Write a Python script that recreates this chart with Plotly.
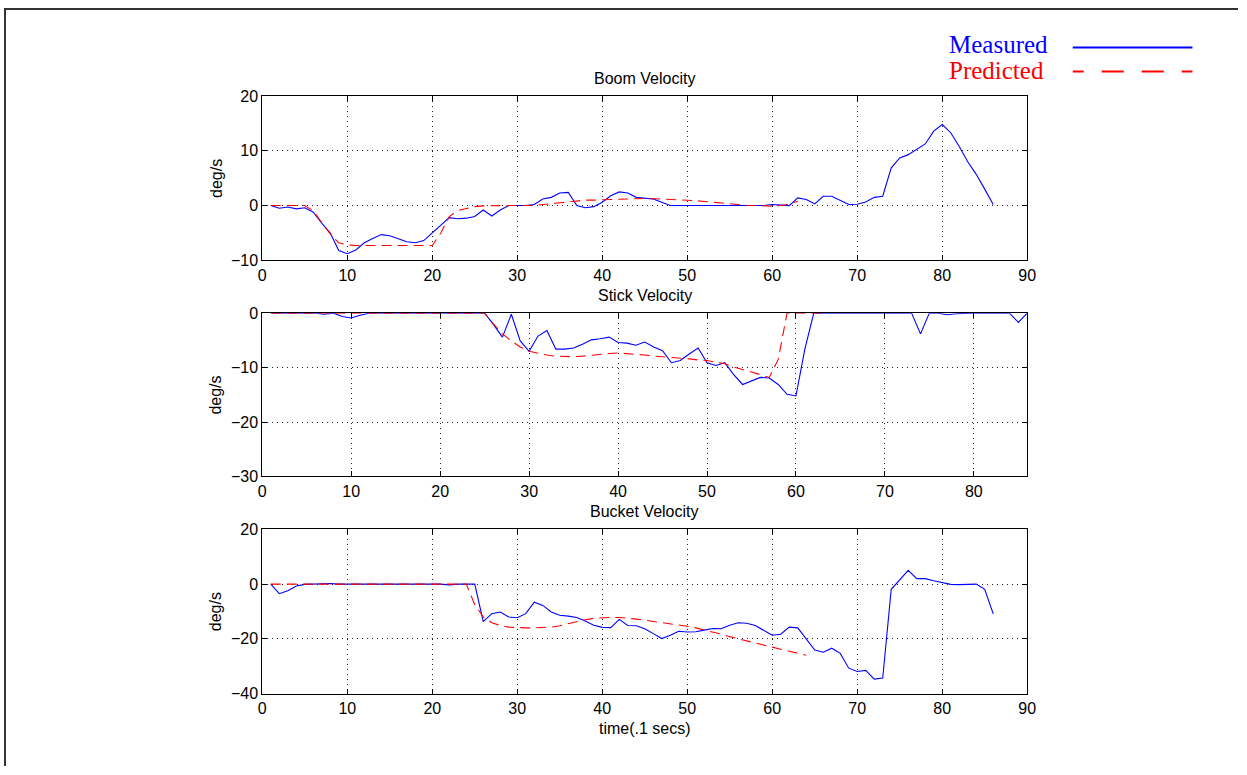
import plotly.graph_objects as go

# sample index (tenths of a second)
t_meas = list(range(1, 87))

boom_measured = [
    0, -0.5, -0.25, -0.6, -0.4, -1.2, -3.2, -5.0, -8.2, -8.8,
    -8.1, -6.8, -6.0, -5.3, -5.5, -6.0, -6.6, -6.8, -6.4, -5.0,
    -3.6, -2.2, -2.4, -2.3, -2.0, -0.8, -1.9, -0.8, 0, 0,
    0, 0.2, 1.2, 1.5, 2.3, 2.4, 0, -0.4, -0.2, 0.6,
    1.8, 2.5, 2.3, 1.5, 1.4, 1.2, 0.6, 0, 0, 0,
    0.1, 0, 0, 0, 0, 0, 0.05, 0, 0, 0.2,
    0.1, 0, 1.4, 1.1, 0.3, 1.7, 1.7, 1.0, 0.2, 0.25,
    0.65, 1.5, 1.7, 6.9, 8.7, 9.3, 10.2, 11.25, 13.6, 14.8,
    13.3, 10.8, 8.0, 5.7, 3.0, 0.2,
]
boom_predicted = [
    0, 0, 0, 0, 0, -1.0, -3.0, -5.2, -6.8, -7.2,
    -7.3, -7.3, -7.3, -7.3, -7.3, -7.3, -7.3, -7.3, -7.3, -7.3,
    -5.0, -2.0, -0.9, -0.5, -0.2, -0.05, 0, 0, 0, 0,
    0, 0, 0.2, 0.4, 0.5, 0.65, 0.8, 1.0, 1.0, 1.05,
    1.1, 1.2, 1.25, 1.3, 1.3, 1.25, 1.2, 1.1, 1.05, 1.0,
    0.9, 0.75, 0.6, 0.45, 0.35, 0.2, 0.05, 0, -0.05, -0.1,
    0.0, 0.25, 0.8,
]

stick_measured = [
    0, 0, 0, 0, 0, 0, -0.2, 0, -0.6, -0.9,
    -0.4, 0, 0, 0, 0, 0, 0, 0, 0, 0,
    0, 0, 0, 0, 0, -2.1, -4.4, -0.2, -5.1, -7.0,
    -4.2, -3.2, -6.6, -6.6, -6.4, -5.7, -4.9, -4.7, -4.4, -5.4,
    -5.5, -5.9, -5.3, -6.2, -6.9, -9.1, -8.7, -7.5, -6.4, -9.1,
    -9.6, -9.1, -11.3, -13.1, -12.4, -11.8, -11.9, -13.1, -14.9, -15.2,
    -6.6, 0, 0, 0, -0.1, 0, 0, 0, 0, 0,
    0, 0, 0, -3.8, 0, 0, -0.3, -0.1, 0, 0,
    0, 0, 0, 0, -1.7, 0,
]
stick_predicted = [
    0, 0, 0, 0, 0, 0, 0, 0, 0, 0,
    0, 0, 0, 0, 0, 0, 0, 0, 0, 0,
    0, 0, 0, 0, 0, -2.0, -3.8, -5.1, -6.2, -7.0,
    -7.4, -7.7, -7.9, -8.0, -8.0, -7.9, -7.7, -7.5, -7.4, -7.3,
    -7.4, -7.5, -7.7, -7.9, -8.0, -8.2, -8.3, -8.4, -8.6, -8.7,
    -9.0, -9.3, -9.9, -10.3, -10.8, -11.3, -11.8, -8.5, 0, 0,
    0, 0, 0,
]

bucket_measured = [
    0, -3.5, -2.4, -0.7, -0.1, 0, 0, 0.2, 0, 0,
    -0.1, 0, 0, 0, 0, 0, 0, 0, 0, 0,
    0, -0.3, 0, 0, 0, -13.7, -10.8, -10.2, -12.0, -12.3,
    -10.8, -6.6, -7.8, -10.2, -11.4, -11.7, -12.2, -13.5, -15.0, -15.8,
    -15.9, -12.9, -15.1, -15.2, -16.3, -18.1, -19.9, -18.7, -17.2, -17.5,
    -17.4, -16.8, -16.2, -16.3, -15.0, -14.1, -14.3, -15.1, -16.8, -18.7,
    -18.3, -15.7, -16.0, -20.1, -24.1, -24.9, -23.4, -25.3, -30.7, -31.9,
    -31.5, -34.7, -34.3, -1.9, 1.4, 5.0, 2.0, 2.0, 1.2, 0.5,
    -0.1, -0.2, -0.1, 0, -1.9, -10.9,
]
bucket_predicted = [
    0, 0, 0, 0, 0, 0, 0, 0, 0, 0,
    0, 0, 0, 0, 0, 0, 0, 0, 0, 0,
    0, 0, 0, 0, -7.5, -12.0, -14.1, -15.1, -15.7, -15.9,
    -16.0, -16.0, -15.9, -15.7, -15.2, -14.5, -13.6, -13.0, -12.5, -12.3,
    -12.2, -12.2, -12.4, -12.8, -13.2, -13.6, -14.0, -14.5, -15.0, -15.4,
    -16.0, -16.7, -17.5, -18.3, -19.2, -20.0, -20.7, -21.5, -22.3, -23.1,
    -23.8, -24.5, -25.2, -26.0,
]

panel_titles = ["Boom Velocity", "Stick Velocity", "Bucket Velocity"]
y_ranges = [[-10, 20], [-30, 0], [-40, 20]]
y_ticks = [[-10, 0, 10, 20], [-30, -20, -10, 0], [-40, -20, 0, 20]]
x_ranges = [[0, 90], [0, 86], [0, 90]]
x_ticks = [list(range(0, 91, 10)), list(range(0, 81, 10)), list(range(0, 91, 10))]

W, H = 1247, 775
X0, X1 = 261, 1034
panel_px = [(90, 258), (312, 479), (533, 701)]  # top, bottom in pixels

BLUE = "#0000ff"
RED = "#ff0000"
SANS = "Liberation Sans, Arial, sans-serif"
SERIF = "Liberation Serif, Times New Roman, serif"

fig = go.Figure()

series = [
    (boom_measured, boom_predicted),
    (stick_measured, stick_predicted),
    (bucket_measured, bucket_predicted),
]

for i, (meas, pred) in enumerate(series):
    suffix = "" if i == 0 else str(i + 1)
    fig.add_trace(go.Scatter(
        x=t_meas[:len(meas)], y=meas, mode="lines",
        line=dict(color=BLUE, width=1.1),
        xaxis="x" + suffix, yaxis="y" + suffix, showlegend=False,
    ))
    fig.add_trace(go.Scatter(
        x=t_meas[:len(pred)], y=pred, mode="lines",
        line=dict(color=RED, width=1.1, dash="10px,6px"),
        xaxis="x" + suffix, yaxis="y" + suffix, showlegend=False,
    ))

axis_common = dict(
    showline=True, linecolor="black", linewidth=1, mirror="ticks",
    ticks="inside", ticklen=5, tickcolor="black", tickwidth=1,
    showgrid=True, gridcolor="#222", gridwidth=1, griddash="1px,4px",
    zeroline=False, tickfont=dict(family=SANS, size=16, color="black"),
)

layout = dict(
    width=W, height=H,
    margin=dict(l=0, r=0, t=0, b=0),
    paper_bgcolor="white", plot_bgcolor="white",
    showlegend=False,
)

annotations = []
for i in range(3):
    suffix = "" if i == 0 else str(i + 1)
    top, bot = panel_px[i]
    layout["xaxis" + suffix] = dict(
        axis_common, domain=[X0 / W, X1 / W], range=x_ranges[i],
        tickvals=x_ticks[i], anchor="y" + suffix,
    )
    layout["yaxis" + suffix] = dict(
        axis_common, domain=[1 - bot / H, 1 - top / H], range=y_ranges[i],
        tickvals=y_ticks[i], anchor="x" + suffix,
    )
    annotations.append(dict(
        text=panel_titles[i], xref="paper", yref="paper",
        x=(X0 + X1) / 2 / W, y=1 - (top - 18) / H,
        xanchor="center", yanchor="middle", showarrow=False,
        font=dict(family=SANS, size=16, color="black"),
    ))
    annotations.append(dict(
        text="deg/s", xref="paper", yref="paper",
        x=214 / W, y=1 - (top + bot) / 2 / H, textangle=-90,
        xanchor="center", yanchor="middle", showarrow=False,
        font=dict(family=SANS, size=16, color="black"),
    ))

annotations.append(dict(
    text="time(.1 secs)", xref="paper", yref="paper",
    x=(X0 + X1) / 2 / W, y=1 - 737 / H,
    xanchor="center", yanchor="middle", showarrow=False,
    font=dict(family=SANS, size=16, color="black"),
))

# legend entries
annotations.append(dict(
    text="Measured", xref="paper", yref="paper", x=953 / W, y=1 - 37 / H,
    xanchor="left", yanchor="middle", showarrow=False,
    font=dict(family=SERIF, size=25, color=BLUE),
))
annotations.append(dict(
    text="Predicted", xref="paper", yref="paper", x=953 / W, y=1 - 64 / H,
    xanchor="left", yanchor="middle", showarrow=False,
    font=dict(family=SERIF, size=25, color=RED),
))

shapes = [
    dict(type="line", xref="paper", yref="paper",
         x0=1080 / W, x1=1201 / W, y0=1 - 40.5 / H, y1=1 - 40.5 / H,
         line=dict(color=BLUE, width=2)),
    dict(type="line", xref="paper", yref="paper",
         x0=1080 / W, x1=1201 / W, y0=1 - 65 / H, y1=1 - 65 / H,
         line=dict(color=RED, width=2,
                   dash="11px,18px,22px,18px,22px,18px,22px,18px")),
    # page frame on the top and left edges
    dict(type="line", xref="paper", yref="paper",
         x0=0, x1=1, y0=1 - 1 / H, y1=1 - 1 / H,
         line=dict(color="#333", width=2)),
    dict(type="line", xref="paper", yref="paper",
         x0=1 / W, x1=1 / W, y0=0, y1=1,
         line=dict(color="#333", width=2)),
]

layout["annotations"] = annotations
layout["shapes"] = shapes
fig.update_layout(**layout)

# drop the browser's default page margin so the figure sits at the window origin
fig.write_html(
    "out.html",
    post_script="document.body.style.margin='0';document.body.style.overflow='hidden';",
)
